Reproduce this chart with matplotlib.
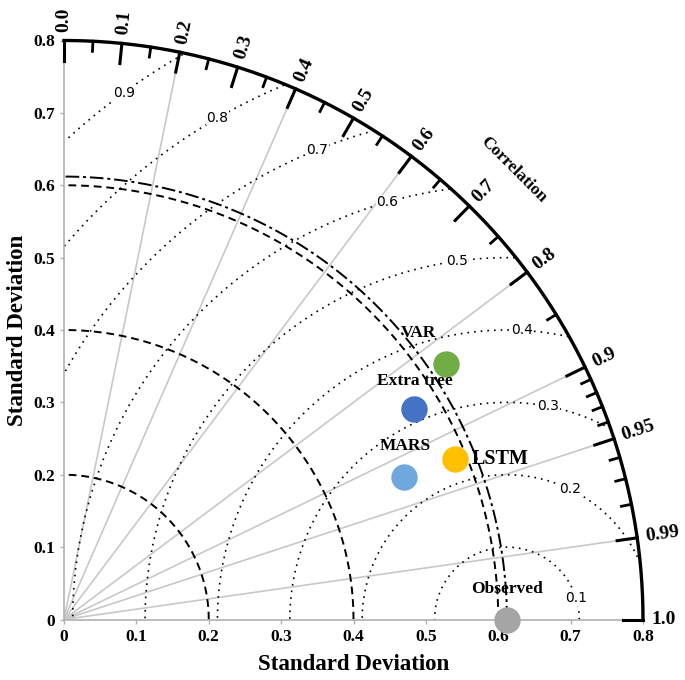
import numpy as np
import matplotlib
matplotlib.use("Agg")
import matplotlib.pyplot as plt

# model statistics
models = ['VAR', 'Extra tree', 'MARS', 'LSTM']
std_devs = [0.635, 0.564, 0.509, 0.584]
correlations = [0.831, 0.857, 0.922, 0.925]
model_colors = ['#70AD47', '#4472C4', '#6FA8DC', '#FFC000']
obs_std = 0.612

# grid definitions
std_rings = [0.2, 0.4, 0.6]
rms_levels = [0.1, 0.2, 0.3, 0.4, 0.5, 0.6, 0.7, 0.8, 0.9]
corr_lines = [0.2, 0.4, 0.6, 0.8, 0.9, 0.95, 0.99]
corr_major = [0.0, 0.1, 0.2, 0.3, 0.4, 0.5, 0.6, 0.7, 0.8, 0.9, 0.95, 0.99, 1.0]
corr_minor = [0.05, 0.15, 0.25, 0.35, 0.45, 0.55, 0.65, 0.75, 0.85,
              0.91, 0.92, 0.93, 0.94, 0.96, 0.97, 0.98]
axis_ticks = [0, 0.1, 0.2, 0.3, 0.4, 0.5, 0.6, 0.7, 0.8]
axis_ticklabels = ['0', '0.1', '0.2', '0.3', '0.4', '0.5', '0.6', '0.7', '0.8']

R = 0.8
serif = 'Liberation Serif'

fig = plt.figure(figsize=(6.85, 6.8), dpi=100)
ax = fig.add_axes([64 / 685, 60 / 680, 579 / 685, 580 / 680])
ax.set_xlim(0, R)
ax.set_ylim(0, R)
ax.set_aspect('equal', adjustable='box')

# spines
for side in ['top', 'right']:
    ax.spines[side].set_visible(False)
for side in ['left', 'bottom']:
    ax.spines[side].set_color('#b0b0b0')
    ax.spines[side].set_linewidth(1.2)

ax.set_xticks(axis_ticks)
ax.set_yticks(axis_ticks)
ax.set_xticklabels(axis_ticklabels)
ax.set_yticklabels(axis_ticklabels)
ax.tick_params(colors='#b0b0b0', length=3, width=1, labelcolor='black', labelsize=12.5)
for lbl in ax.get_xticklabels() + ax.get_yticklabels():
    lbl.set_family(serif)
    lbl.set_fontweight('bold')

ax.set_xlabel('Standard Deviation', family=serif, fontweight='bold', fontsize=16.5, labelpad=7)
ax.set_ylabel('Standard Deviation', family=serif, fontweight='bold', fontsize=16.5, labelpad=4)

# radial correlation lines
for c in corr_lines:
    th = np.arccos(c)
    ax.plot([0, R * np.cos(th)], [0, R * np.sin(th)], color='#c8c8c8', lw=1.2, zorder=1)

# std dev rings
t = np.linspace(0, np.pi / 2, 300)
for r in std_rings:
    ax.plot(r * np.cos(t), r * np.sin(t), color='black', lw=1.4,
            linestyle=(0, (4, 2.5)), zorder=2)
ax.plot(obs_std * np.cos(t), obs_std * np.sin(t), color='black', lw=1.4,
        linestyle=(0, (7, 2, 1.5, 2)), zorder=2)

# centred RMS contours
phi = np.linspace(0, np.pi, 800)
label_angles = [17, 64, 79, 87, 98, 106, 112, 120, 126]
for lev, ang in zip(rms_levels, label_angles):
    xs = obs_std + lev * np.cos(phi)
    ys = lev * np.sin(phi)
    ok = (xs >= 0) & (np.hypot(xs, ys) <= R)
    xs = np.where(ok, xs, np.nan)
    ys = np.where(ok, ys, np.nan)
    ax.plot(xs, ys, color='black', lw=1.2, linestyle=(0, (1, 3)), zorder=2)
    a = np.deg2rad(ang)
    ax.text(obs_std + lev * np.cos(a), lev * np.sin(a), f'{lev:.1f}',
            fontsize=10, family='DejaVu Sans', ha='center', va='center', zorder=3,
            bbox=dict(facecolor='white', edgecolor='none', pad=0.3))

# outer arc with correlation ticks
ax.plot(R * np.cos(t), R * np.sin(t), color='black', lw=2.4, clip_on=False, zorder=4)
for c in corr_major:
    th = np.arccos(c)
    ax.plot([(R - 0.028) * np.cos(th), R * np.cos(th)],
            [(R - 0.028) * np.sin(th), R * np.sin(th)],
            color='black', lw=2.2, clip_on=False, zorder=4)
    txt = f'{c:.2f}' if c in (0.95, 0.99) else f'{c:.1f}'
    ax.text((R + 0.012) * np.cos(th), (R + 0.012) * np.sin(th), txt,
            rotation=np.degrees(th), rotation_mode='anchor', ha='left', va='center',
            family=serif, fontweight='bold', fontsize=14, clip_on=False)
for c in corr_minor:
    th = np.arccos(c)
    ax.plot([(R - 0.014) * np.cos(th), R * np.cos(th)],
            [(R - 0.014) * np.sin(th), R * np.sin(th)],
            color='black', lw=2.0, clip_on=False, zorder=4)

ax.text(0.879 * np.cos(np.pi / 4), 0.879 * np.sin(np.pi / 4), 'Correlation',
        rotation=-45, rotation_mode='anchor', ha='center', va='center',
        family=serif, fontweight='bold', fontsize=12.5, clip_on=False)

# model points
offsets = {'VAR': (-20, 22, 'center'), 'Extra tree': (1, 20, 'center'),
           'MARS': (1, 22, 'center'), 'LSTM': (12, 0, 'left')}
for name, s, c, col in zip(models, std_devs, correlations, model_colors):
    x, y = s * c, s * np.sqrt(1 - c ** 2)
    ax.plot(x, y, 'o', ms=19, color=col, mec='none', zorder=5)
    dx, dy, ha = offsets[name]
    ax.annotate(name, (x, y), xytext=(dx, dy), textcoords='offset points',
                ha=ha, va='center', family=serif, fontweight='bold',
                fontsize=14.5 if name == 'LSTM' else 12.5, zorder=6)

ax.plot(obs_std, 0, 'o', ms=19, color='#A5A5A5', mec='none', zorder=5, clip_on=False)
ax.annotate('Observed', (obs_std, 0), xytext=(0, 22), textcoords='offset points',
            ha='center', va='center', family=serif, fontweight='bold', fontsize=12.5, zorder=6)

fig.savefig('out.png', dpi=100)
